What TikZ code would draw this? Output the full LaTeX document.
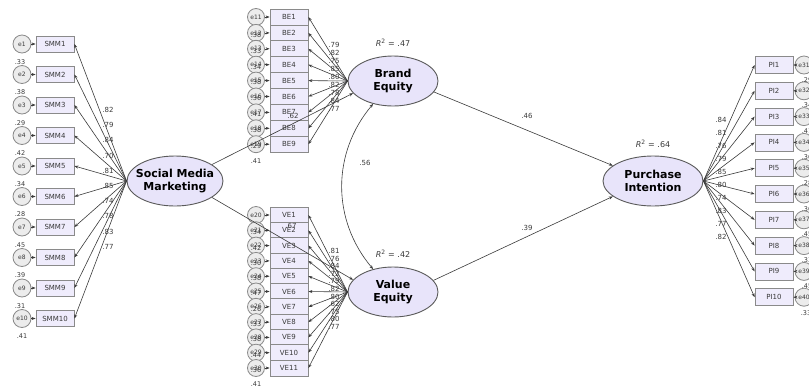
\documentclass[tikz,border=0pt]{standalone}
\usepackage{fontspec}
\setmainfont{DejaVu Sans}
\usetikzlibrary{shapes.geometric,arrows.meta}
\definecolor{boxfill}{HTML}{EFECFC}
\definecolor{boxline}{HTML}{8A8A8A}
\definecolor{errfill}{HTML}{ECECEC}
\definecolor{latfill}{HTML}{E8E4FA}
\definecolor{latline}{HTML}{5A5A5A}
\definecolor{ink}{HTML}{3A3A3A}
\tikzset{
  obs/.style={rectangle, draw=boxline, fill=boxfill, line width=0.8pt, minimum width=38pt, minimum height=16pt, inner sep=0pt, font=\fontsize{7}{8}\selectfont, text=ink},
  obsp/.style={obs, minimum height=17pt},
  errc/.style={circle, draw=boxline, fill=errfill, line width=0.8pt, minimum size=17pt, inner sep=0pt, font=\fontsize{6}{7}\selectfont, text=ink},
  lat/.style={ellipse, draw=latline, fill=latfill, line width=0.9pt, inner sep=0pt, font=\fontsize{11}{12.5}\selectfont\bfseries, align=center},
  arr/.style={draw=ink, line width=0.6pt, -{Stealth[length=4pt,width=3pt]}},
  lbl/.style={font=\fontsize{7}{8}\selectfont, text=ink, inner sep=0pt},
  rsq/.style={font=\fontsize{6.5}{7.5}\selectfont, text=ink, inner sep=0pt},
  rtwo/.style={font=\fontsize{8}{9}\selectfont, text=ink, inner sep=0pt}
}
\begin{document}
\begin{tikzpicture}[x=1pt,y=-1pt]
\useasboundingbox (0,0) rectangle (809,389);

% latent variables
\node[lat, inner xsep=-8pt, minimum width=96pt, minimum height=50pt] (smm) at (175,181) {Social Media\\Marketing};
\node[lat, minimum width=90pt, minimum height=50pt] (be) at (393,81) {Brand\\Equity};
\node[lat, minimum width=90pt, minimum height=50pt] (ve) at (393,292) {Value\\Equity};
\node[lat, minimum width=100pt, minimum height=50pt] (pi) at (653,181) {Purchase\\Intention};

\node[rtwo] (r2be) at (393,43) {\itshape R\textsuperscript{\upshape 2}\upshape\ = .47};
\node[rtwo] (r2ve) at (393,254) {\itshape R\textsuperscript{\upshape 2}\upshape\ = .42};
\node[rtwo] (r2pi) at (653,144) {\itshape R\textsuperscript{\upshape 2}\upshape\ = .64};

% SMM indicators
\foreach \k in {1,...,10}{
  \node[obs] (s\k) at (55,{44+(\k-1)*30.5}) {SMM\k};
  \node[errc, minimum size=18pt] (es\k) at (22,{44+(\k-1)*30.5}) {e\k};
  \draw[arr] (es\k) -- (s\k);
  \draw[arr] (smm.west) -- (s\k.east);
}
\foreach \v [count=\k from 2] in {.33,.38,.29,.42,.34,.28,.45,.39,.31}{
  \node[rsq] (rs\k) at (20,{44+(\k-1)*30.5-12.5}) {\v};
}
\node[rsq] (rs11) at (22,336) {.41};
\foreach \v [count=\k] in {.82,.79,.84,.70,.81,.85,.74,.78,.83,.77}{
  \node[lbl] (ls\k) at (108,{110+(\k-1)*15.2}) {\v};
}

% BE indicators
\foreach \k in {1,...,9}{
  \pgfmathtruncatemacro\e{\k+10}
  \node[obs] (b\k) at (289,{17+(\k-1)*15.9}) {BE\k};
  \node[errc] (eb\k) at (256,{17+(\k-1)*15.9}) {e\e};
  \draw[arr] (eb\k) -- (b\k);
  \draw[arr] (be.west) -- (b\k.east);
}
\foreach \v [count=\k from 2] in {.38,.33,.34,.38,.36,.41,.38,.29}{
  \node[rsq] (rb\k) at (256,{17+(\k-1)*15.9+2}) {\v};
}
\node[rsq] (rb10) at (256,161) {.41};
\foreach \v [count=\k] in {.79,.82,.75,.85,.80,.82,.78,.84,.77}{
  \node[lbl] (lb\k) at (334,{45+(\k-1)*8}) {\v};
}

% VE indicators
\foreach \k in {1,...,11}{
  \pgfmathtruncatemacro\e{\k+19}
  \node[obs] (v\k) at (289,{215+(\k-1)*15.3}) {VE\k};
  \node[errc] (ev\k) at (256,{215+(\k-1)*15.3}) {e\e};
  \draw[arr] (ev\k) -- (v\k);
  \draw[arr] (ve.west) -- (v\k.east);
}
\foreach \v [count=\k from 2] in {.34,.42,.30,.38,.47,.26,.33,.38,.44,.36}{
  \node[rsq] (rv\k) at (256,{215+(\k-1)*15.3+2}) {\v};
}
\node[rsq] (rv12) at (256,384) {.41};
\foreach \v [count=\k] in {.81,.76,.84,.72,.79,.82,.80,.62,.75,.80,.77}{
  \node[lbl] (lv\k) at (334,{251+(\k-1)*7.6}) {\v};
}

% PI indicators
\foreach \k in {1,...,10}{
  \pgfmathtruncatemacro\e{\k+30}
  \node[obsp] (p\k) at (774,{65+(\k-1)*25.8}) {PI\k};
  \node[errc, minimum size=18pt] (ep\k) at (804,{65+(\k-1)*25.8}) {e\e};
  \draw[arr] (ep\k) -- (p\k);
  \draw[arr] (pi.east) -- (p\k.west);
}
\foreach \v [count=\k from 2] in {.29,.34,.41,.36,.28,.36,.45,.33,.45}{
  \node[rsq] (rp\k) at (807,{65+(\k-1)*25.8-11}) {\v};
}
\node[rsq] (rp11) at (806,313) {.33};
\foreach \v [count=\k] in {.84,.81,.76,.79,.85,.80,.74,.83,.77,.82}{
  \node[lbl] (lp\k) at (721,{120+(\k-1)*13}) {\v};
}

% structural paths
\draw[arr] (smm.24) -- (be.197);
\draw[arr] (smm.-24) -- (ve.163);
\draw[arr] (be.-15) -- (pi.159);
\draw[arr] (ve.16) -- (pi.201);
\draw[draw=ink, line width=0.6pt, {Stealth[length=4pt,width=3pt]}-{Stealth[length=4pt,width=3pt]}] (be.229) to[bend right=40] (ve.131);

\node[lbl] (c62) at (293,116) {.62};
\node[lbl] (c67) at (291,226) {.67};
\node[lbl] (c46) at (527,116) {.46};
\node[lbl] (c39) at (527,228) {.39};
\node[lbl] (c56) at (365,163) {.56};
\end{tikzpicture}
\end{document}
